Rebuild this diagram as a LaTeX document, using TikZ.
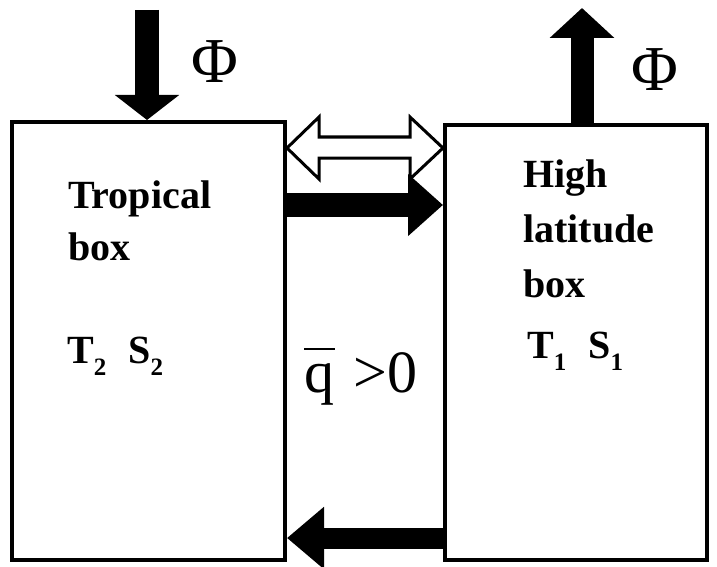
\documentclass[tikz,border=0pt]{standalone}
\usepackage{fontspec}
\setmainfont{Liberation Serif}
\usetikzlibrary{arrows.meta,calc}
\begin{document}
\begin{tikzpicture}[x=1pt,y=-1pt,
  boxnode/.style={draw=black,line width=4pt,inner sep=0pt,fill=white},
  lbl/.style={anchor=base west,inner sep=0pt,font=\fontsize{40}{40}\selectfont\bfseries},
  phi/.style={inner sep=0pt,font=\fontsize{64}{64}\selectfont},
  fat/.style={draw=black,line width=#1}
]
\useasboundingbox[fill=white] (0,0) rectangle (717,567);
% boxes
\node[boxnode,minimum width=273pt,minimum height=438pt] (trop) at (148.5,341) {};
\node[boxnode,minimum width=262pt,minimum height=435pt] (high) at (576,342.5) {};
% labels
\node[lbl] (t1) at (68,208) {Tropical};
\node[lbl] (t2) at (68,260) {box};
\node[lbl] (t3) at (67,363) {T\raisebox{-12pt}{\fontsize{25}{25}\selectfont 2}\hspace{22pt}S\raisebox{-12pt}{\fontsize{25}{25}\selectfont 2}};
\node[lbl] (h1) at (523,187) {High};
\node[lbl] (h2) at (523,242) {latitude};
\node[lbl] (h3) at (523,297) {box};
\node[lbl] (h4) at (527,358) {T\raisebox{-12pt}{\fontsize{25}{25}\selectfont 1}\hspace{22pt}S\raisebox{-12pt}{\fontsize{25}{25}\selectfont 1}};
\node[anchor=base west,inner sep=0pt,font=\fontsize{60}{60}\selectfont] (q) at (304,392)
  {\rlap{\raisebox{42pt}{\rule{31pt}{2pt}}}q\hspace{19pt}>0};
\node[phi] (phiL) at (215,62) {Φ};
\node[phi] (phiR) at (655,70) {Φ};
% flux arrows
\coordinate (inL) at (147,10);
\draw[fat=24pt,-{Triangle[length=25pt,width=63pt]}] (inL) -- (inL |- trop.north);
\coordinate (outR) at (582,8);
\coordinate (outB) at (outR |- high.north);
\draw[fat=23pt,-{Triangle[length=30pt,width=63pt]}] (outB) -- (outR);
% transport arrows
\coordinate (mL) at (trop.east |- 0,205);
\coordinate (mR) at (high.west |- 0,205);
\draw[fat=24pt,-{Triangle[length=35pt,width=60pt]}] (mL) -- (mR);
\coordinate (bR) at (high.west |- 0,538);
\coordinate (bL) at (trop.east |- 0,538);
\draw[fat=21pt,-{Triangle[length=37pt,width=60pt]}] (bR) -- (bL);
% hollow double arrow
\coordinate (dl) at (trop.east |- 0,148);
\coordinate (dr) at (high.west |- 0,148);
\draw[line width=3pt,fill=white,line join=miter]
  (dl) -- ($(dl)+(32,-31)$) -- ($(dl)+(32,-11)$) -- ($(dr)+(-33,-11)$) -- ($(dr)+(-33,-31)$)
  -- (dr) -- ($(dr)+(-33,31)$) -- ($(dr)+(-33,10)$) -- ($(dl)+(32,10)$) -- ($(dl)+(32,31)$) -- cycle;
\end{tikzpicture}
\end{document}
